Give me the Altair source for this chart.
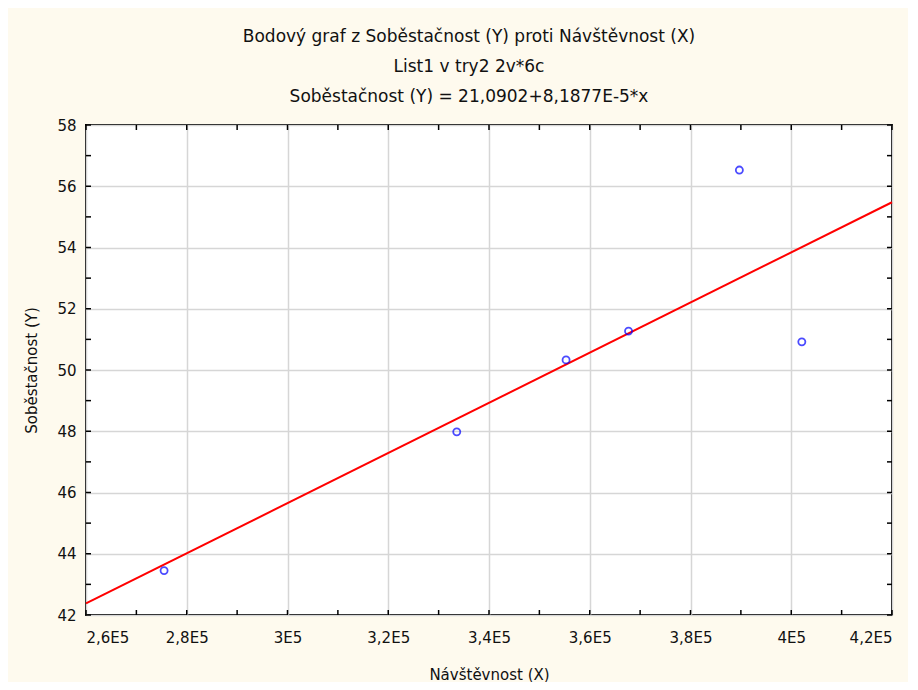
import altair as alt
import pandas as pd

# Data
nav = [275500, 333600, 355300, 367700, 389700, 402100]
sob = [43.45, 47.98, 50.33, 51.27, 56.53, 50.92]

# Regression line end points: Soběstačnost (Y) = 21,0902 + 8,1877E-5*x
line_x = [260000, 420000]
line_y = [42.378, 55.478]

x_major = [260000, 280000, 300000, 320000, 340000, 360000, 380000, 400000, 420000]
x_minor = [260000 + 10000 * i for i in range(17)]
y_major = [42, 44, 46, 48, 50, 52, 54, 56, 58]
y_minor = list(range(42, 59))

title_lines = [
    "Bodový graf z Soběstačnost (Y) proti Návštěvnost (X)",
    "List1 v  try2 2v*6c",
    "Soběstačnost (Y) = 21,0902+8,1877E-5*x",
]

W, H = 806, 490
FONT = "DejaVu Sans"

pts = pd.DataFrame({"x": nav, "y": sob})
ln = pd.DataFrame({"x": line_x, "y": line_y})
xt = pd.DataFrame({"x": x_minor})
yt = pd.DataFrame({"y": y_minor})

xscale = alt.Scale(domain=[260000, 420000], nice=False, zero=False)
yscale = alt.Scale(domain=[42, 58], nice=False, zero=False)

xaxis = alt.Axis(
    values=x_major,
    labelExpr="replace(format(datum.value/100000, '.2~f'), '.', ',') + 'E5'",
    grid=True, gridColor="#d6d6d6", gridWidth=1.5,
    domain=False, ticks=False, labelPadding=15,
    labelFontSize=15, labelFont=FONT, labelColor="#111",
    title="Návštěvnost (X)", titleFontSize=15, titleFont=FONT,
    titleFontWeight="normal", titleColor="#111", titlePadding=22,
)
yaxis = alt.Axis(
    values=y_major, format="d",
    grid=True, gridColor="#d6d6d6", gridWidth=1.5,
    domain=False, ticks=False, labelPadding=10,
    labelFontSize=15, labelFont=FONT, labelColor="#111",
    title="Soběstačnost (Y)", titleFontSize=15, titleFont=FONT,
    titleFontWeight="normal", titleColor="#111", titlePadding=17,
)

X = alt.X("x:Q", scale=xscale, axis=xaxis)
Y = alt.Y("y:Q", scale=yscale, axis=yaxis)

line = alt.Chart(ln).mark_line(color="#ff0000", strokeWidth=2).encode(x=X, y=Y)
points = alt.Chart(pts).mark_point(
    shape="circle", filled=False, color="#0000ff", size=50, strokeWidth=1.8
).encode(x=X, y=Y)

tick_b = alt.Chart(xt).mark_rule(color="black", strokeWidth=1.5).encode(
    x=X, y=alt.value(H), y2=alt.value(H - 5))
tick_t = alt.Chart(xt).mark_rule(color="black", strokeWidth=1.5).encode(
    x=X, y=alt.value(0), y2=alt.value(5))
tick_l = alt.Chart(yt).mark_rule(color="black", strokeWidth=1.5).encode(
    y=Y, x=alt.value(0), x2=alt.value(5))
tick_r = alt.Chart(yt).mark_rule(color="black", strokeWidth=1.5).encode(
    y=Y, x=alt.value(W), x2=alt.value(W - 5))

chart = alt.layer(line, points, tick_b, tick_t, tick_l, tick_r).properties(
    width=W, height=H,
    title=alt.TitleParams(
        text=title_lines, fontSize=17, font=FONT, fontWeight="normal",
        color="#111", lineHeight=30, anchor="middle", dx=-20, offset=12,
    ),
    autosize=alt.AutoSizeParams(type="none"),
    padding={"left": 78, "top": 117, "right": 16, "bottom": 67},
    background="#fefaee",
).configure_view(fill="white", stroke="black", strokeWidth=2)

chart.save("out.html", embed_options={"renderer": "svg", "actions": False})
